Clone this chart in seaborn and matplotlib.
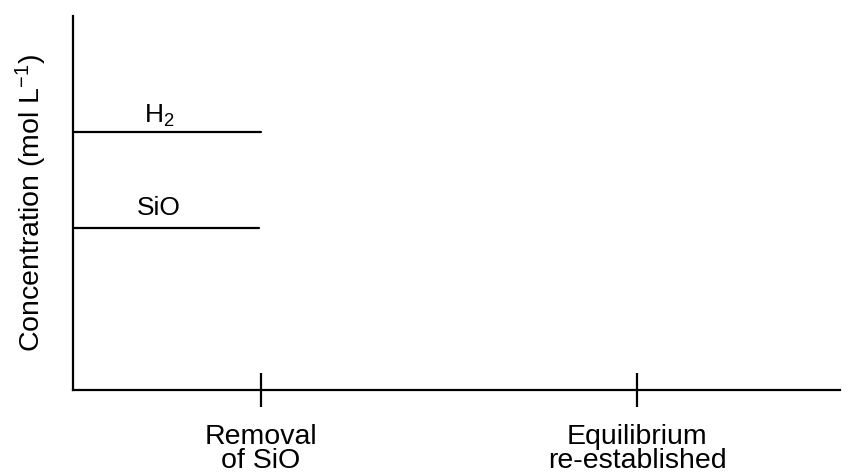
import matplotlib
matplotlib.use("Agg")
import matplotlib.pyplot as plt
import seaborn as sns
import pandas as pd

# Data
species = ["H$_2$", "SiO"]
conc_start = [6.9, 4.33]
conc_end = [6.9, 4.33]
time_start = [0.0, 0.0]
time_end = [1.0, 0.99]
tick_pos = [1, 3]
tick_labels = ["Removal\nof SiO", "Equilibrium\nre-established"]

sns.set_theme(style="white")
plt.rcParams['font.family'] = ['Liberation Sans', 'DejaVu Sans']
plt.rcParams['mathtext.default'] = 'regular'

rows = []
for s, x0, x1, y0, y1 in zip(species, time_start, time_end, conc_start, conc_end):
    rows.append({"species": s, "t": x0, "c": y0})
    rows.append({"species": s, "t": x1, "c": y1})
df = pd.DataFrame(rows)

fig = plt.figure(figsize=(8.6, 4.75), dpi=100)
ax = fig.add_axes([73/860, 1 - 390/475, (840-73)/860, (390-16)/475])

sns.lineplot(data=df, x="t", y="c", units="species", estimator=None,
             color="black", linewidth=1.6, ax=ax, legend=False)

label_sizes = [19, 19]
label_offsets = [6.5, 9.5]
for s, x0, x1, y, fs, off in zip(species, time_start, time_end, conc_start,
                                 label_sizes, label_offsets):
    ax.annotate(s, xy=(x0 + (x1 - x0) * 0.46, y), xytext=(0, off),
                textcoords="offset points", ha="center", va="baseline",
                fontsize=fs, color="black")

ax.set_xlim(0, 4.08)
ax.set_ylim(0, 10)
ax.set_xticks(tick_pos)
ax.set_xticklabels(tick_labels, fontsize=20.5, linespacing=0.9)
ax.set_yticks([])
ax.tick_params(axis="x", bottom=True, direction="inout", length=25, width=1.6,
               pad=12, colors="black")
ax.set_xlabel("")
ax.set_ylabel("Concentration (mol L$^{-1}$)", fontsize=20.5, color="black",
              labelpad=17)
for side in ["top", "right"]:
    ax.spines[side].set_visible(False)
for side in ["left", "bottom"]:
    ax.spines[side].set_color("black")
    ax.spines[side].set_linewidth(1.6)

fig.savefig("out.png", dpi=100)
